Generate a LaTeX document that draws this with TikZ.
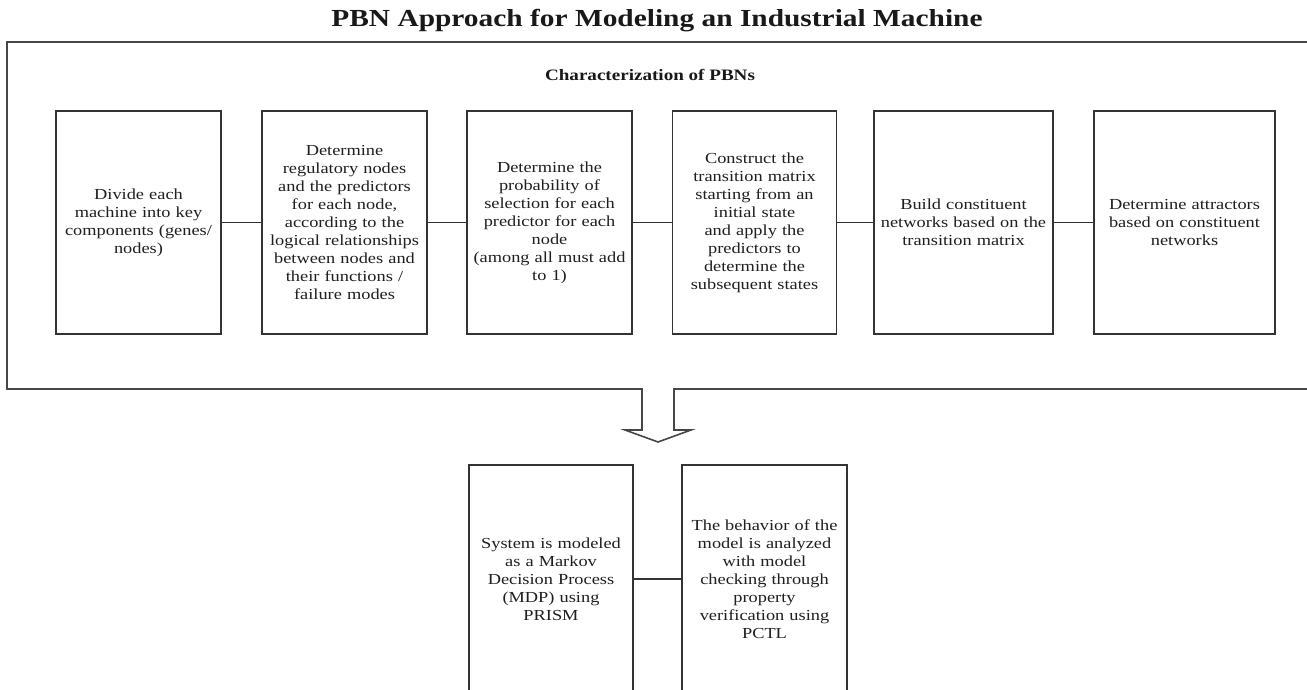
\documentclass[tikz,border=0pt]{standalone}
\usepackage{fontspec}
\setmainfont{Liberation Serif}[FakeStretch=1.2]
\begin{document}
\begin{tikzpicture}[x=1bp,y=-1bp,
  line/.style={draw=black!80,line width=1.2bp},
  frameline/.style={draw=black!72,line width=1.6bp,line join=miter},
  stepbox/.style={line,rectangle,inner sep=2bp,align=center,text=black!88,
    font=\fontsize{15.3bp}{18bp}\selectfont,minimum height=223bp},
  heading/.style={inner sep=0pt,text=black!90,font=\bfseries\fontsize{24.5bp}{28bp}\selectfont},
  subheading/.style={inner sep=0pt,text=black!90,font=\bfseries\fontsize{15.9bp}{18bp}\selectfont}]
\useasboundingbox (0,0) rectangle (1307,689);
\fill[white] (0,0) rectangle (1307,689);

% titles
\node[heading] (title) at (657,21) {PBN Approach for Modeling an Industrial Machine};
\node[subheading] (sub) at (650,75) {Characterization of PBNs};

% outer frame with the block arrow on its lower edge
\coordinate (fTR) at (1330,42);
\coordinate (fTL) at (7,42);
\coordinate (fBL) at (7,389);
\coordinate (fBR) at (1330,389);
\draw[frameline] (fTR) -- (fTL) -- (fBL) -- (642,389) -- (642,430) -- (625,430)
  -- (658,442) -- (691,430) -- (674,430) -- (674,389) -- (fBR);

% the six characterization steps
\node[stepbox,minimum width=165bp,text width=160bp] (s1) at (138.5,222.5)
  {Divide each\\machine into key\\components (genes/\\nodes)};
\node[stepbox,minimum width=165bp,text width=160bp] (s2) at (344.5,222.5)
  {Determine\\regulatory nodes\\and the predictors\\for each node,\\according to the\\logical relationships\\between nodes and\\their functions /\\failure modes};
\node[stepbox,minimum width=165bp,text width=160bp] (s3) at (549.5,222.5)
  {Determine the\\probability of\\selection for each\\predictor for each\\node\\(among all must add\\to 1)};
\node[stepbox,minimum width=164bp,text width=159bp] (s4) at (754.5,222.5)
  {Construct the\\transition matrix\\starting from an\\initial state\\and apply the\\predictors to\\determine the\\subsequent states};
\node[stepbox,minimum width=179bp,text width=174bp] (s5) at (963.5,222.5)
  {Build constituent\\networks based on the\\transition matrix};
\node[stepbox,minimum width=181bp,text width=176bp] (s6) at (1184.5,222.5)
  {Determine attractors\\based on constituent\\networks};

\draw[line] (s1) -- (s2);
\draw[line] (s2) -- (s3);
\draw[line] (s3) -- (s4);
\draw[line] (s4) -- (s5);
\draw[line] (s5) -- (s6);

% modelling and verification
\node[stepbox,minimum width=164bp,text width=159bp,minimum height=228bp] (m1) at (551,579)
  {System is modeled\\as a Markov\\Decision Process\\(MDP) using\\PRISM};
\node[stepbox,minimum width=165bp,text width=160bp,minimum height=228bp] (m2) at (764.5,579)
  {The behavior of the\\model is analyzed\\with model\\checking through\\property\\verification using\\PCTL};

\draw[line] (m1) -- (m2);
\end{tikzpicture}
\end{document}
